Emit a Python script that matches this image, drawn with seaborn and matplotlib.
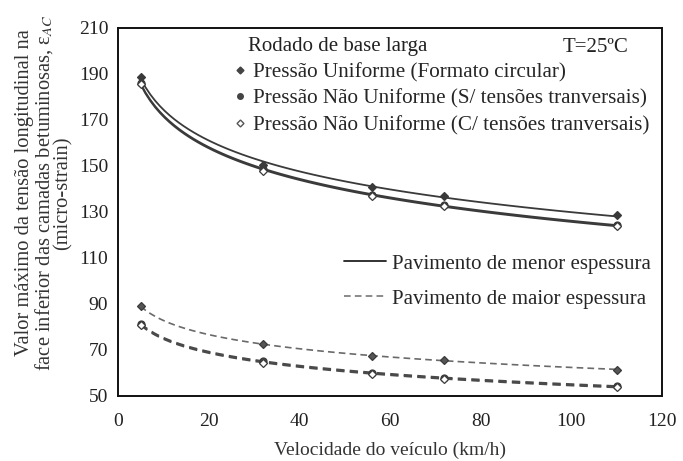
import numpy as np
import pandas as pd
import matplotlib
matplotlib.use("Agg")
import matplotlib.pyplot as plt
import seaborn as sns
from matplotlib.lines import Line2D

# ---- data ----
speeds = [5, 32, 56, 72, 110]
menor_uniforme = [188.5, 150.5, 141.0, 137.0, 128.5]
menor_nu_sem = [186.0, 148.5, 137.5, 133.0, 124.5]
menor_nu_com = [185.5, 148.0, 137.0, 132.5, 124.0]
maior_uniforme = [89.0, 72.5, 67.5, 65.5, 61.5]
maior_nu_sem = [81.5, 65.0, 60.0, 58.0, 54.5]
maior_nu_com = [81.0, 64.5, 59.5, 57.5, 54.0]

x_ticks = [0, 20, 40, 60, 80, 100, 120]
y_ticks = [50, 70, 90, 110, 130, 150, 170, 190, 210]

sns.set_theme(style="white")
plt.rcParams["font.family"] = ["Liberation Serif", "DejaVu Serif"]
plt.rcParams["mathtext.fontset"] = "stix"

W, H = 683, 461
fig = plt.figure(figsize=(W / 100, H / 100), dpi=100)
L, R, T, B = 118, 662, 28, 396
ax = fig.add_axes([L / W, 1 - B / H, (R - L) / W, (B - T) / H])

series = [
    (menor_uniforme, "#3a3a3a", "-", 1.3, "D", "#3a3a3a"),
    (menor_nu_sem, "#3a3a3a", "-", 1.3, "o", "#3a3a3a"),
    (menor_nu_com, "#3a3a3a", "-", 1.3, "D", "white"),
    (maior_uniforme, "#6a6a6a", (0, (4, 2.5)), 1.2, "D", "#555555"),
    (maior_nu_sem, "#4a4a4a", (0, (4, 2.5)), 1.5, "o", "#4a4a4a"),
    (maior_nu_com, "#4a4a4a", (0, (4, 2.5)), 1.5, "D", "white"),
]

# logarithmic trend lines through each series (as in the source spreadsheet chart)
for vals, col, ls, lw, mk, fc in series:
    sns.regplot(x=speeds, y=vals, logx=True, ci=None, scatter=False, ax=ax,
                line_kws=dict(color=col, linestyle=ls, linewidth=lw))

for vals, col, ls, lw, mk, fc in series:
    ax.plot(speeds, vals, linestyle="none", marker=mk, markersize=4.5 if mk == "D" else 5,
            markerfacecolor=fc, markeredgecolor="#3a3a3a", markeredgewidth=0.9)

ax.set_xlim(0, 120)
ax.set_ylim(50, 210)
ax.set_xticks(x_ticks)
ax.set_yticks(y_ticks)
ax.tick_params(direction="in", length=4, width=1, labelsize=14, colors="#222222")
ax.tick_params(axis="x", pad=12)
ax.tick_params(axis="y", pad=7)
for s in ax.spines.values():
    s.set_color("#111111")
    s.set_linewidth(1.4)
ax.set_xlabel("")
ax.set_ylabel("")

fig.text((L + R) / 2 / W, 1 - 450 / H, "Velocidade do veículo (km/h)",
         ha="center", va="center", fontsize=14, color="#333333")
fig.text(44 / W, 1 - 193 / H,
         "Valor máximo da tensão longitudinal na\nface inferior das camadas betuminosas, ε$_{AC}$\n(micro-strain)",
         rotation=90, ha="center", va="center", multialignment="center",
         fontsize=14.8, linespacing=0.92, color="#333333")

# legend 1 (load types)
fig.text(248 / W, 1 - 47 / H, "Rodado de base larga", ha="left", va="center",
         fontsize=15, color="#222222")
fig.text(628 / W, 1 - 47 / H, "T=25ºC", ha="right", va="center",
         fontsize=15, color="#222222")
h1 = [
    Line2D([], [], ls="none", marker="D", ms=3.5, mfc="#444444", mec="#444444"),
    Line2D([], [], ls="none", marker="o", ms=4, mfc="#444444", mec="#444444"),
    Line2D([], [], ls="none", marker="D", ms=3.5, mfc="white", mec="#555555"),
]
lab1 = ["Pressão Uniforme (Formato circular)",
        "Pressão Não Uniforme (S/ tensões tranversais)",
        "Pressão Não Uniforme (C/ tensões tranversais)"]
leg1 = ax.legend(h1, lab1, loc="upper left", bbox_to_anchor=(234 / W, 1 - 63 / H),
                 bbox_transform=fig.transFigure, frameon=False, fontsize=15.2,
                 handlelength=0.6, handletextpad=0.3, labelspacing=0.3,
                 borderpad=0, borderaxespad=0)
ax.add_artist(leg1)

h2 = [Line2D([], [], color="#222222", lw=1.3, ls="-"),
      Line2D([], [], color="#777777", lw=1.2, ls=(0, (4, 2.5)))]
lab2 = ["Pavimento de menor espessura", "Pavimento de maior espessura"]
ax.legend(h2, lab2, loc="upper left", bbox_to_anchor=(344 / W, 1 - 254 / H),
          bbox_transform=fig.transFigure, frameon=False, fontsize=15,
          handlelength=2.0, handletextpad=0.3, labelspacing=0.75,
          borderpad=0, borderaxespad=0)

fig.savefig("out.png", dpi=100)
